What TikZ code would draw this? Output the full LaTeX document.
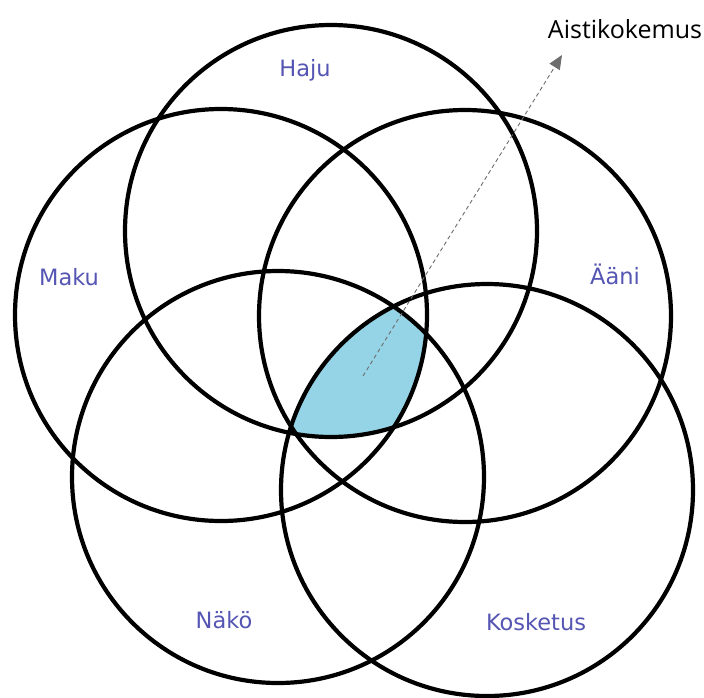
\documentclass[tikz,border=0pt]{standalone}
\usepackage{fontspec}
\setmainfont{DejaVu Sans}
\newfontfamily\calloutfont{Open Sans}
\usetikzlibrary{arrows.meta}
\definecolor{labelblue}{RGB}{85,85,180}
\definecolor{venncyan}{RGB}{148,212,230}
\definecolor{arrowgray}{RGB}{110,110,110}
\tikzset{
  ring/.style={draw=black, line width=4.2pt, fill=none},
  sense/.style={text=labelblue, font=\fontsize{22.5}{26}\selectfont, inner sep=0pt},
  pointer/.style={draw=arrowgray, line width=0.9pt, dash pattern=on 4pt off 3pt,
    -{Triangle[length=14pt,width=12pt,fill=arrowgray]}}
}
\begin{document}
\begin{tikzpicture}[x=1pt,y=-1pt]
\useasboundingbox (0,0) rectangle (704,697);
\fill[white] (0,0) rectangle (704,697);
% centres
\coordinate (cH) at (331,231);
\coordinate (cM) at (221,315);
\coordinate (cA) at (465,316);
\coordinate (cN) at (278,477);
\coordinate (cK) at (487,490);
% common region
\begin{scope}
  \clip (cH) circle[radius=206pt];
  \clip (cM) circle[radius=206pt];
  \clip (cA) circle[radius=206pt];
  \clip (cN) circle[radius=206pt];
  \fill[fill=venncyan] (cK) circle[radius=206pt];
\end{scope}
% circles
\draw[ring] (cH) circle[radius=206pt];
\draw[ring] (cM) circle[radius=206pt];
\draw[ring] (cA) circle[radius=206pt];
\draw[ring] (cN) circle[radius=206pt];
\draw[ring] (cK) circle[radius=206pt];
% labels
\node[sense] (haju) at (305,70) {Haju};
\node[sense] (maku) at (69,277) {Maku};
\node[sense] (aani) at (615,274) {Ääni};
\node[sense] (nako) at (224,620) {Näkö};
\node[sense] (kosk) at (536,622) {Kosketus};
% callout
\node[font=\calloutfont\fontsize{25}{29}\selectfont, text=black, inner sep=0pt] (aisti) at (625,29) {Aistikokemus};
\coordinate (start) at (363,376);
\coordinate (tip) at (562,55);
\draw[pointer] (start) -- (tip);
\end{tikzpicture}
\end{document}
